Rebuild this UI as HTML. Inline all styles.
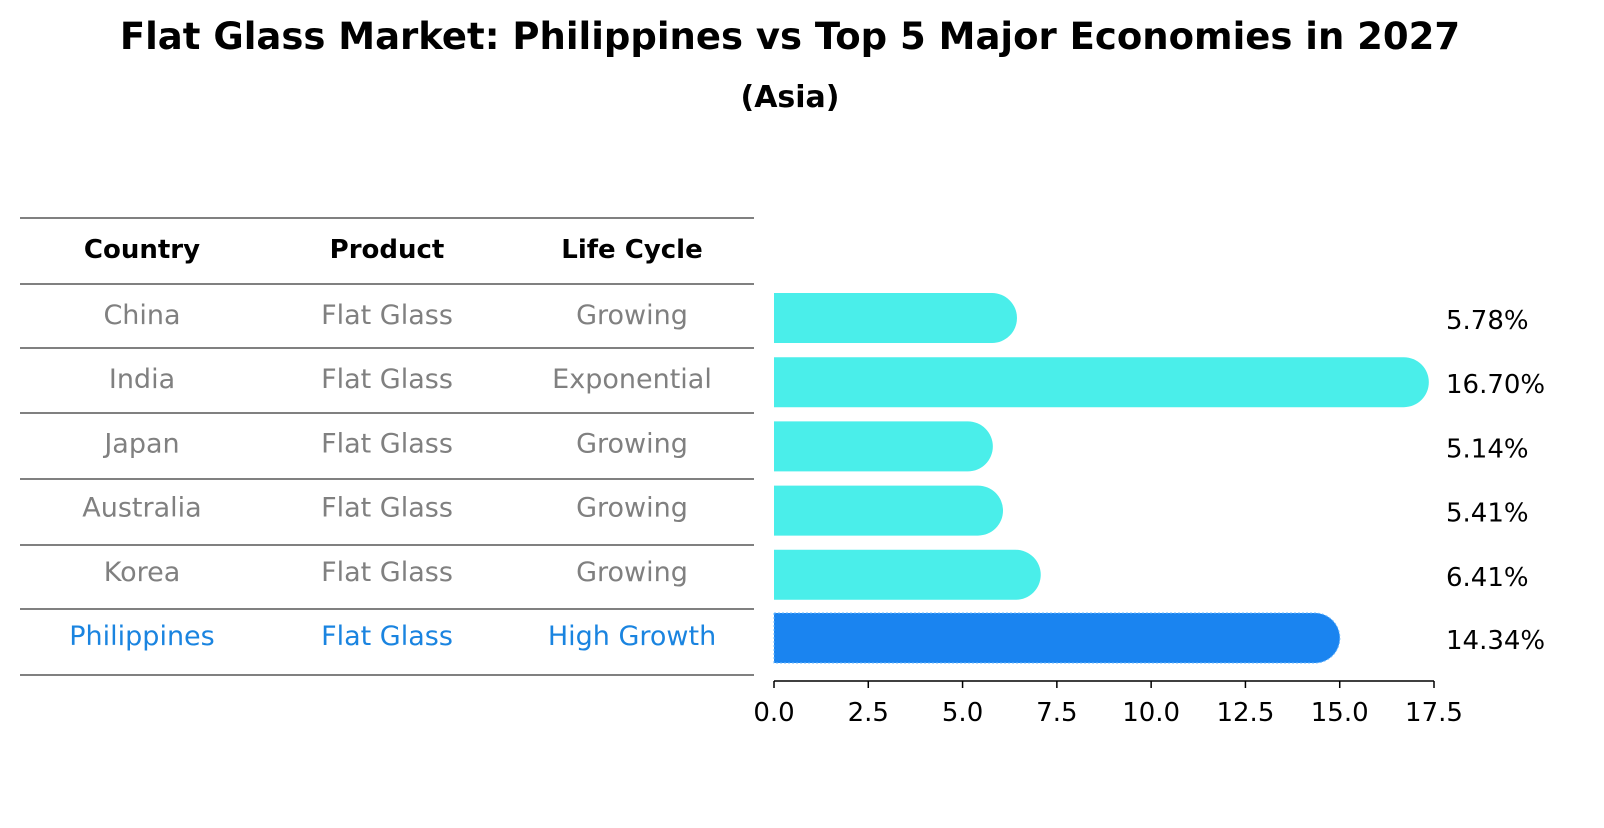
<!DOCTYPE html>
<html><head><meta charset="utf-8"><style>
body{margin:0;background:#fff;font-family:"Liberation Sans","DejaVu Sans",sans-serif}
</style></head><body>
<svg width="1604" height="823" xmlns="http://www.w3.org/2000/svg" font-family="DejaVu Sans, Liberation Sans, sans-serif">
<text x="790" y="49" text-anchor="middle" font-size="37" font-weight="bold">Flat Glass Market: Philippines vs Top 5 Major Economies in 2027</text>
<text x="790" y="107" text-anchor="middle" font-size="30" font-weight="bold">(Asia)</text>
<g id="table"></g>
<g id="bars"></g>
</svg>
<script>
const countries=["China","India","Japan","Australia","Korea","Philippines"];
const products=["Flat Glass","Flat Glass","Flat Glass","Flat Glass","Flat Glass","Flat Glass"];
const lifeCycles=["Growing","Exponential","Growing","Growing","Growing","High Growth"];
const values=[5.78,16.70,5.14,5.41,6.41,14.34];
const labels=["5.78%","16.70%","5.14%","5.41%","6.41%","14.34%"];
const ticks=[0,2.5,5,7.5,10,12.5,15,17.5];
const tickLabels=["0.0","2.5","5.0","7.5","10.0","12.5","15.0","17.5"];
const NS="http://www.w3.org/2000/svg";
function mk(t,a,p){const e=document.createElementNS(NS,t);for(const k in a)e.setAttribute(k,a[k]);p.appendChild(e);return e;}
const x=v=>774+v*(660/17.5);
const rowY=i=>318+i*64.2;
const tbl=document.getElementById('table');
const lines=[218,284,348,413,479,545,609,675];
lines.forEach(ly=>{const l=mk('line',{x1:20,x2:754,y1:ly,y2:ly,stroke:'#000','stroke-width':1},tbl);

});
const cols=[142,387,632];
["Country","Product","Life Cycle"].forEach((h,j)=>{const t=mk('text',{x:cols[j],y:258,'text-anchor':'middle','font-size':26,'font-weight':'bold'},tbl);t.textContent=h;

});
countries.forEach((c,i)=>{const col=i===5?'#1a84e0':'#808080';
[c,products[i],lifeCycles[i]].forEach((s,j)=>{const t=mk('text',{x:cols[j],y:rowY(i)+6,'text-anchor':'middle','font-size':27,fill:col},tbl);t.textContent=s;

});});
const g=document.getElementById('bars');
values.forEach((v,i)=>{const col=i===5?'#1a84f0':'#4aeeea';const yc=rowY(i)-(i===5?1:0);
const p=mk('path',{d:`M${x(0)},${yc-25} H${x(v)} A25,25 0 0 1 ${x(v)},${yc+25} H${x(0)} Z`,fill:col},g);
if(i===5){p.setAttribute('stroke','#6ab8ff');p.setAttribute('stroke-dasharray','2,2');p.setAttribute('stroke-width','1');}


const t=mk('text',{x:1446,y:yc+11,'font-size':26},g);t.textContent=labels[i];

});
const ax=mk('line',{x1:x(0),x2:x(17.5),y1:681,y2:681,stroke:'#000','stroke-width':1.5},g);


ticks.forEach((tv,k)=>{const l=mk('line',{x1:x(tv),x2:x(tv),y1:681,y2:688,stroke:'#000','stroke-width':1.5},g);


const t=mk('text',{x:x(tv),y:721,'text-anchor':'middle','font-size':26},g);t.textContent=tickLabels[k];

});
</script>
</body></html>
